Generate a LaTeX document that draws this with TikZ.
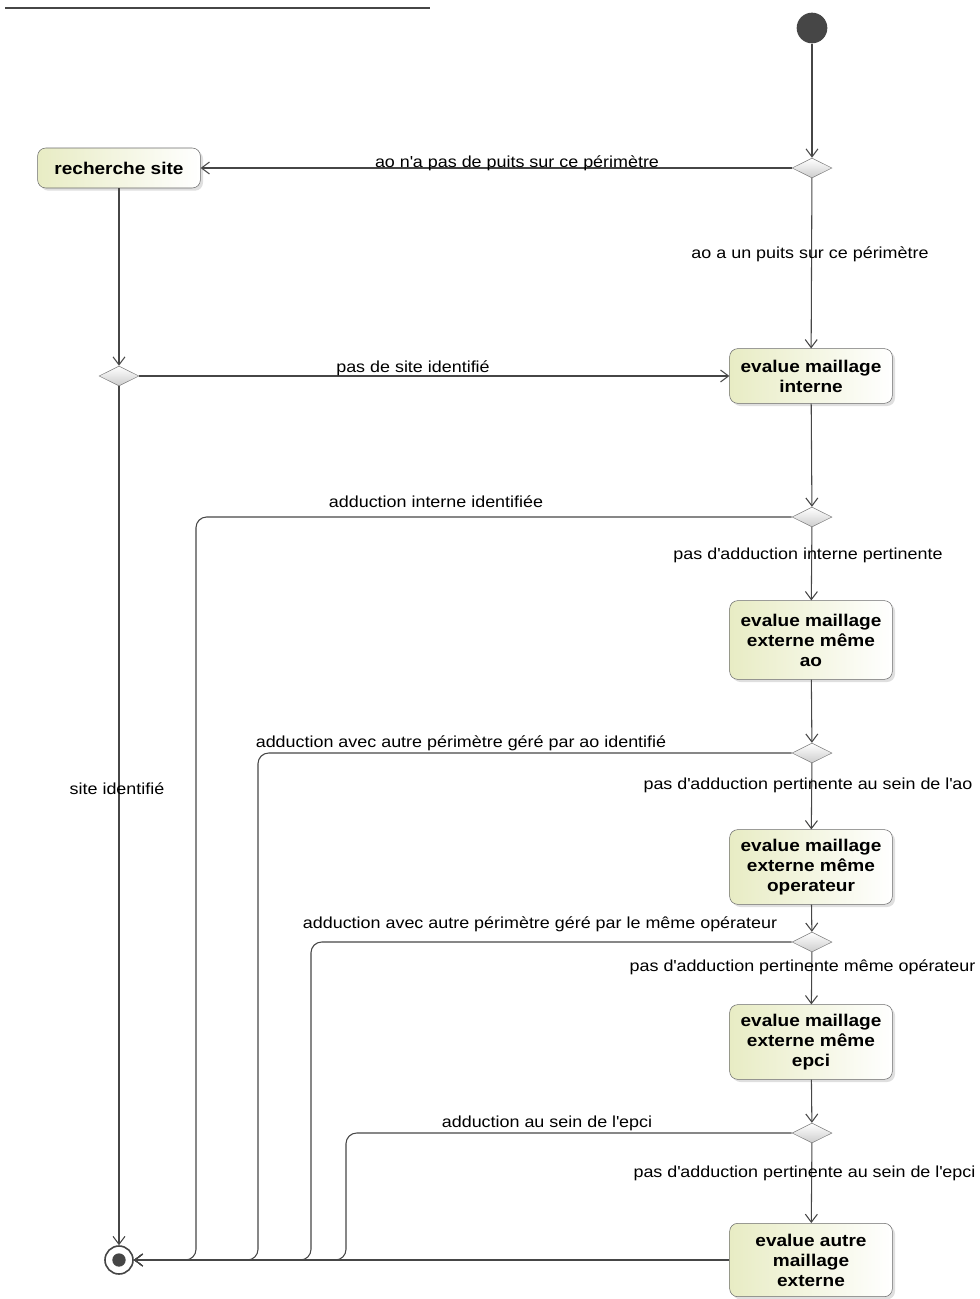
\documentclass[tikz,border=0pt]{standalone}
\definecolor{umlline}{RGB}{70, 70, 70}
\definecolor{umlfill}{RGB}{232, 236, 196}
\definecolor{umlgrey}{RGB}{205, 205, 205}
\usepackage{fontspec}
\setmainfont[FakeStretch=1.12]{Liberation Sans}
\usetikzlibrary{shapes.geometric, arrows.meta, shadows}
\newcommand{\ap}{\textquotesingle}
\tikzstyle{activity} = [draw=umlline!80, rounded corners=6pt, left color=umlfill, right color=white,
                        drop shadow={opacity=0.25, shadow xshift=2pt, shadow yshift=-2pt},
                        minimum width=122pt, minimum height=30pt, inner sep=2pt,
                        font=\fontsize{12.75}{15}\selectfont\bfseries, align=center]
\tikzstyle{decision} = [diamond, aspect=2, draw=umlline!70, top color=white, bottom color=umlgrey,
                        minimum width=30pt, minimum height=15pt, inner sep=0pt]
\tikzstyle{flow} = [draw=umlline, line width=0.8pt, -{Straight Barb[length=6pt, width=9pt]}]
\tikzstyle{lbl} = [font=\fontsize{12}{14}\selectfont, inner sep=1pt]

\begin{document}
\begin{tikzpicture}[x=0.75pt, y=-0.75pt]
    \useasboundingbox (0,0) rectangle (979,1299);
    \draw[umlline, line width=1.5pt] (5,8) -- (430,8);
    % start and end
    \node[circle, fill=umlline, minimum size=23pt, inner sep=0pt] (start) at (812, 28) {};
    \node[circle, draw=umlline, line width=1.2pt, fill=white, minimum size=21pt, inner sep=0pt] (fin) at (119, 1260) {};
    \node[circle, fill=umlline, minimum size=10pt, inner sep=0pt] (findot) at (fin) {};
    % activities
    \node[activity] (rech) at (119, 168) {recherche site};
    \node[activity, minimum height=41pt] (interne) at (811, 376) {evalue maillage\\interne};
    \node[activity, minimum height=59pt] (extao) at (811, 640) {evalue maillage\\externe même\\ao};
    \node[activity, minimum height=56pt] (extop) at (811, 867) {evalue maillage\\externe même\\operateur};
    \node[activity, minimum height=56pt] (extepci) at (811, 1042) {evalue maillage\\externe même\\epci};
    \node[activity, minimum height=55pt] (autre) at (811, 1260) {evalue autre\\maillage\\externe};
    % decisions
    \node[decision] (d1) at (812, 168) {};
    \node[decision] (d2) at (119, 376) {};
    \node[decision] (d3) at (812, 517) {};
    \node[decision] (d4) at (812, 753) {};
    \node[decision] (d5) at (812, 942) {};
    \node[decision] (d6) at (812, 1133) {};
    % corners of the return lines
    \coordinate (j3) at (196, 1260);
    \coordinate (j4) at (258, 1260);
    \coordinate (j5) at (311, 1260);
    \coordinate (j6) at (346, 1260);
    % flows
    \draw[flow] (start) -- (d1);
    \draw[flow] (d1) -- (rech);
    \draw[flow] (d1) -- (interne);
    \draw[flow] (rech) -- (d2);
    \draw[flow] (d2) -- (interne);
    \draw[flow] (d2) -- (fin);
    \draw[flow] (interne) -- (d3);
    \draw[flow, rounded corners=8pt] (d3.west) -| (j3) -- (fin);
    \draw[flow] (d3) -- (extao);
    \draw[flow] (extao) -- (d4);
    \draw[flow, rounded corners=8pt] (d4.west) -| (j4) -- (fin);
    \draw[flow] (d4) -- (extop);
    \draw[flow] (extop) -- (d5);
    \draw[flow, rounded corners=8pt] (d5.west) -| (j5) -- (fin);
    \draw[flow] (d5) -- (extepci);
    \draw[flow] (extepci) -- (d6);
    \draw[flow, rounded corners=8pt] (d6.west) -| (j6) -- (fin);
    \draw[flow] (d6) -- (autre);
    \draw[flow] (autre) -- (fin);
    % guards
    \node[lbl] (g1) at (517, 163) {ao n\ap a pas de puits sur ce périmètre};
    \node[lbl] (g2) at (810, 254) {ao a un puits sur ce périmètre};
    \node[lbl] (g3) at (413, 368) {pas de site identifié};
    \node[lbl] (g4) at (117, 789) {site identifié};
    \node[lbl] (g5) at (436, 502) {adduction interne identifiée};
    \node[lbl] (g6) at (808, 555) {pas d\ap adduction interne pertinente};
    \node[lbl] (g7) at (461, 743) {adduction avec autre périmètre géré par ao identifié};
    \node[lbl] (g8) at (808, 785) {pas d\ap adduction pertinente au sein de l\ap ao};
    \node[lbl] (g9) at (540, 924) {adduction avec autre périmètre géré par le même opérateur};
    \node[lbl, anchor=east] (g10) at (977, 967) {pas d\ap adduction pertinente même opérateur};
    \node[lbl] (g11) at (547, 1123) {adduction au sein de l\ap epci};
    \node[lbl, anchor=east] (g12) at (977, 1173) {pas d\ap adduction pertinente au sein de l\ap epci};
\end{tikzpicture}
\end{document}
